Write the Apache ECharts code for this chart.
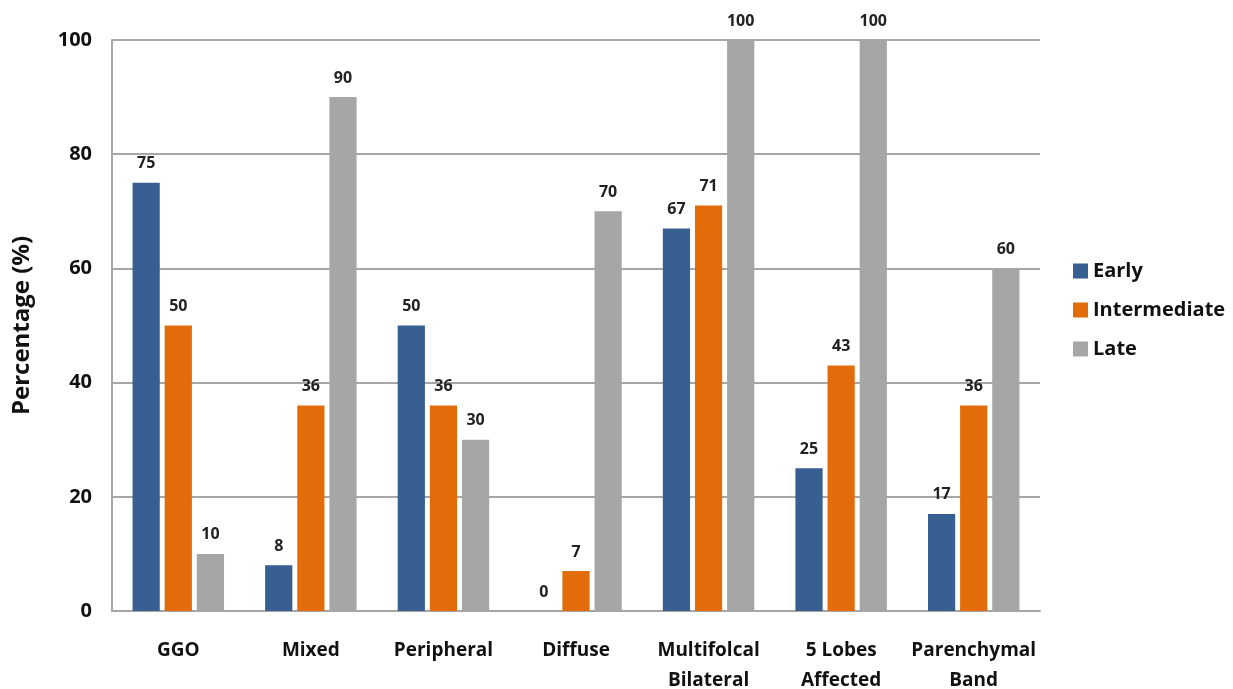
<!DOCTYPE html>
<html><head><meta charset="utf-8">
<script src="https://cdn.jsdelivr.net/npm/echarts@6/dist/echarts.min.js"></script>
<style>html,body{margin:0;padding:0;background:#fff}#c{width:1233px;height:689px}</style>
</head><body><div id="c"></div>
<script>
const categories = ['GGO','Mixed','Peripheral','Diffuse','Multifolcal\nBilateral','5 Lobes\nAffected','Parenchymal\nBand'];
const early = [75, 8, 50, 0, 67, 25, 17];
const intermediate = [50, 36, 36, 7, 71, 43, 36];
const late = [10, 90, 30, 70, 100, 100, 60];
const seriesNames = ['Early','Intermediate','Late'];
const colors = ['#375f92','#e36c0a','#a6a6a6'];
const font = '"Open Sans", "DejaVu Sans", sans-serif';
const chart = echarts.init(document.getElementById('c'));
const mk = (name, data, color) => ({
  name, type: 'bar', data, barGap: '18%', barCategoryGap: '31%',
  itemStyle: { color },
  label: { show: true, position: 'top', distance: 11, fontFamily: font, fontWeight: 'bold', fontSize: 16, color: '#222' }
});
chart.setOption({
  animation: false,
  grid: { left: 112, right: 193, top: 40, bottom: 78, containLabel: false, outerBoundsMode: 'none' },
  legend: {
    orient: 'vertical', left: 1068, top: 256, itemGap: 19, itemWidth: 15, itemHeight: 15,
    icon: 'rect', data: seriesNames,
    textStyle: { fontFamily: font, fontWeight: 'bold', fontSize: 20, color: '#111' }
  },
  xAxis: {
    type: 'category', data: categories,
    axisLine: { lineStyle: { color: '#a6a6a6', width: 2 } },
    axisTick: { show: false },
    axisLabel: { margin: 25, fontFamily: font, fontWeight: 'bold', fontSize: 19, color: '#111', lineHeight: 30, interval: 0 }
  },
  yAxis: {
    type: 'value', min: 0, max: 100, interval: 20,
    name: 'Percentage (%)', nameLocation: 'middle', nameGap: 78,
    nameTextStyle: { fontFamily: font, fontWeight: 'bold', fontSize: 24, color: '#111' },
    axisLine: { show: true, lineStyle: { color: '#a6a6a6', width: 2 } },
    axisTick: { show: false },
    splitLine: { lineStyle: { color: '#a6a6a6', width: 2 } },
    axisLabel: { margin: 20, fontFamily: font, fontWeight: 'bold', fontSize: 20, color: '#111' }
  },
  series: [mk(seriesNames[0], early, colors[0]), mk(seriesNames[1], intermediate, colors[1]), mk(seriesNames[2], late, colors[2])]
});
</script></body></html>
